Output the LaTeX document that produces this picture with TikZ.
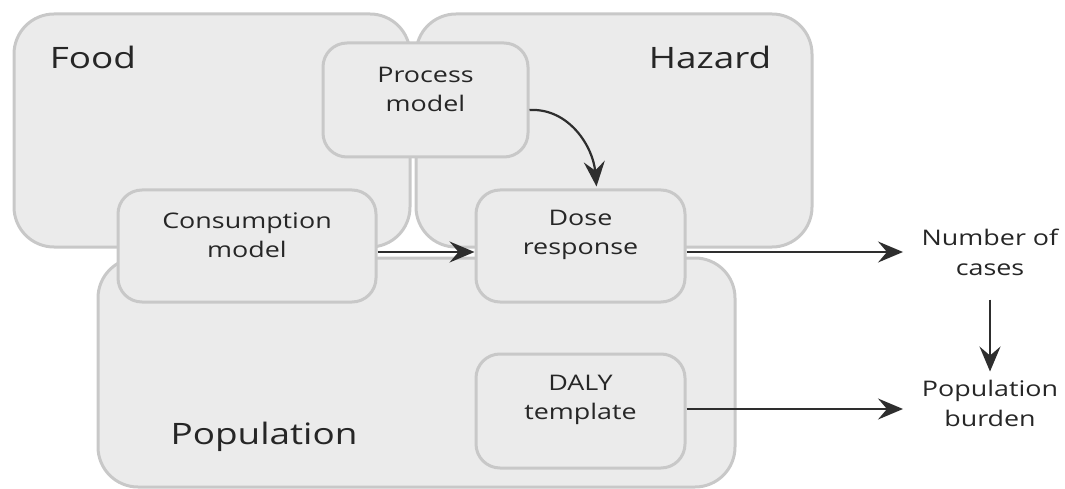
\documentclass[tikz,border=0pt]{standalone}
\usepackage{fontspec}
\setmainfont{Open Sans}[FakeStretch=1.25]
\usetikzlibrary{arrows.meta}
\definecolor{boxfill}{HTML}{EBEBEB}
\definecolor{boxline}{HTML}{C8C8C8}
\definecolor{txt}{HTML}{262626}
\definecolor{arrc}{HTML}{2E2E2E}
\tikzset{
  bigbox/.style 2 args={draw=boxline, fill=boxfill, line width=3pt, rounded corners=40pt,
    minimum width=#1pt, minimum height=#2pt, inner sep=0pt},
  smallbox/.style 2 args={draw=boxline, fill=boxfill, line width=3pt, rounded corners=24pt,
    minimum width=#1pt, minimum height=#2pt, inner sep=0pt},
  bigtxt/.style={text=txt, font=\fontsize{29.5}{34}\selectfont, inner sep=0pt},
  boxtxt/.style={text=txt, font=\fontsize{21.5}{29}\selectfont, align=center, inner sep=0pt},
  outtxt/.style={text=txt, font=\fontsize{21.5}{30}\selectfont, align=center, inner sep=0pt},
  arr/.style={draw=arrc, line width=2.2pt, -{Stealth[length=25pt, width=21pt, inset=9pt]}},
}
\begin{document}
\begin{tikzpicture}[x=1pt,y=-1pt]
\useasboundingbox (0,0) rectangle (1065,489);
% large regions
\node[bigbox={396}{233}] (food) at (212,130.5) {};
\node[bigbox={396}{233}] (hazard) at (614,130.5) {};
\node[bigbox={637}{229}] (pop) at (416.5,372.5) {};
\node[bigtxt] (foodlbl) at (93,57) {Food};
\node[bigtxt] (hazlbl) at (710,57) {Hazard};
\node[bigtxt] (poplbl) at (264,437) {Population};
% model boxes
\node[smallbox={205}{114}] (pm) at (425.5,100) {};
\node[boxtxt] (pmt) at ([yshift=11pt]pm.center) {Process\\model};
\node[smallbox={258}{112}] (cm) at (247,246) {};
\node[boxtxt] (cmt) at ([yshift=11pt]cm.center) {Consumption\\model};
\node[smallbox={209}{112}] (dr) at (580.5,246) {};
\node[boxtxt] (drt) at ([yshift=11pt]dr.center) {Dose\\response};
\node[smallbox={209}{114}] (daly) at (580.5,411) {};
\node[boxtxt] (dalyt) at ([yshift=11pt]daly.center) {DALY\\template};
% outputs
\node[outtxt] (nc) at (990,252) {Number of\\cases};
\node[outtxt] (pb) at (990,403) {Population\\burden};
% connectors
\draw[arr] ([yshift=-10pt]pm.east) to[out=3,in=95] ([xshift=16pt,yshift=2pt]dr.north);
\draw[arr] ([yshift=-6pt]cm.east) -- ([yshift=-6pt]dr.west);
\draw[arr] ([yshift=-6pt]dr.east) -- (903,252);
\draw[arr] ([yshift=2pt]daly.east) -- (903,409);
\draw[arr] ([yshift=-24pt]nc.south) -- ([yshift=8pt]pb.north);
\end{tikzpicture}
\end{document}
